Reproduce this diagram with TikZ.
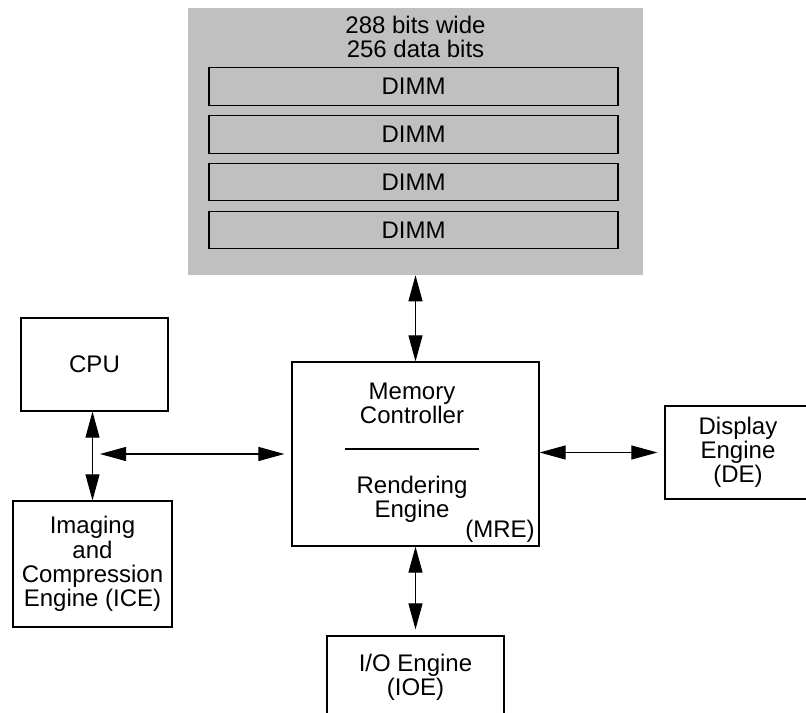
\documentclass[tikz,border=0pt]{standalone}
\usepackage{fontspec}
\setmainfont{Liberation Sans}
\usetikzlibrary{arrows.meta,calc}
\definecolor{panelgray}{RGB}{192,192,192}
\begin{document}
\begin{tikzpicture}[x=0.75pt,y=-0.75pt,
  font=\fontsize{18}{18.2}\selectfont,
  box/.style={draw, line width=0.9pt, inner sep=0pt, align=center},
  dimm/.style={box, minimum width=306.75pt, minimum height=28pt},
  txt/.style={align=center, inner sep=0pt},
  link/.style={line width=0.8pt,
    {Triangle[length=19.5pt,width=10.5pt]}-{Triangle[length=19.5pt,width=10.5pt]}}]
\useasboundingbox (0,0) rectangle (806,713);
\clip (0,0) rectangle (806,713);

% memory array
\node[fill=panelgray, inner sep=0pt, minimum width=341.25pt, minimum height=200.25pt]
  (mem) at (415.5,141.5) {};
\node[txt] (memtitle) at (415.5,37) {288 bits wide\\256 data bits};
\node[dimm] (d1) at (413.5,86.5) {DIMM};
\node[dimm] (d2) at (413.5,134.5) {DIMM};
\node[dimm] (d3) at (413.5,182) {DIMM};
\node[dimm] (d4) at (413.5,230) {DIMM};

% engines
\node[box, minimum width=110.25pt, minimum height=69.75pt] (cpu) at (94.5,364.5) {CPU};
\node[box, minimum width=119.25pt, minimum height=94.5pt] (ice) at (92.5,564)
  {Imaging\\and\\Compression\\Engine (ICE)};
\node[box, minimum width=109.5pt, minimum height=69.75pt] (de) at (738,452.5)
  {Display\\Engine\\(DE)};
\node[box, minimum width=132.75pt, minimum height=62.25pt] (ioe) at (415.5,677.5)
  {I/O Engine\\(IOE)};

% memory controller / rendering engine
\node[box, minimum width=185.25pt, minimum height=138pt] (mre) at (415.5,454) {};
\node[txt] (mc) at (412,403.5) {Memory\\Controller};
\draw[line width=0.8pt] (345,449) -- (479,449);
\node[txt] (re) at (412,499) {Rendering\\Engine};
\node[txt, anchor=east] (mretag) at (535,531) {(MRE)};

% connections
\coordinate (busL) at (100,454);
\draw[link] (mem.south) -- (mre.north);
\draw[link] (ice.north |- cpu.south) -- (ice.north);
\draw[link] (busL) -- ($(mre.west)+(-7,0)$);
\draw[link] (mre.east |- de.west) -- ($(de.west)+(-7,0)$);
\draw[link] (mre.south) -- ($(ioe.north)+(0,-6)$);
\end{tikzpicture}
\end{document}
